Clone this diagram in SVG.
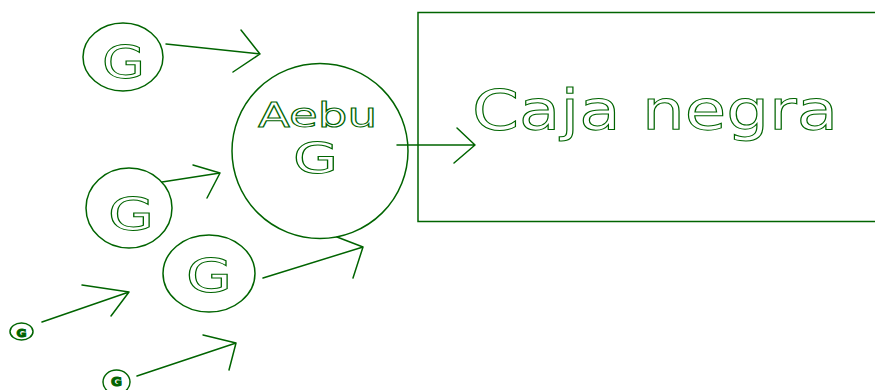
<svg xmlns="http://www.w3.org/2000/svg" width="875" height="390" viewBox="0 0 875 390">
<style>
.ln{fill:none;stroke:#006400;stroke-width:1.5;stroke-linecap:round;stroke-linejoin:round}
.sh{fill:#fff;stroke:#006400;stroke-width:1.5}
.tx{fill:#fff;stroke:#006400;stroke-width:1;font-family:"DejaVu Sans","Liberation Sans",sans-serif}
.tb{fill:#006400;stroke:#006400;stroke-width:1;font-family:"DejaVu Sans","Liberation Sans",sans-serif;font-weight:bold}
</style>
<rect width="875" height="390" fill="#fff"/>
<g id="caja">
<rect class="sh" x="418" y="12.5" width="470" height="209"/>
<text class="tx" x="472" y="129" font-size="55" textLength="366" lengthAdjust="spacingAndGlyphs">Caja negra</text>
</g>
<g id="aebu">
<ellipse class="sh" cx="320" cy="151" rx="88" ry="87.5"/>
<text class="tx" x="258" y="127" font-size="33" textLength="119" lengthAdjust="spacingAndGlyphs" stroke-width="1.3">Aebu</text>
<text class="tx" x="293" y="173" font-size="43" textLength="45" lengthAdjust="spacingAndGlyphs">G</text>
</g>
<g id="g1">
<ellipse class="sh" cx="123" cy="57" rx="40" ry="34"/>
<text class="tx" x="102" y="78" font-size="45" textLength="43" lengthAdjust="spacingAndGlyphs">G</text>
</g>
<g id="g2">
<ellipse class="sh" cx="129" cy="208" rx="43" ry="40"/>
<text class="tx" x="108" y="230" font-size="45" textLength="46" lengthAdjust="spacingAndGlyphs">G</text>
</g>
<g id="g3">
<ellipse class="sh" cx="209" cy="273.5" rx="46" ry="38.5"/>
<text class="tx" x="186" y="292" font-size="46" textLength="46" lengthAdjust="spacingAndGlyphs">G</text>
</g>
<g id="g4">
<ellipse class="sh" cx="21.5" cy="331.5" rx="11.5" ry="8.5"/>
<text class="tb" x="16.5" y="337" font-size="11" textLength="10" lengthAdjust="spacingAndGlyphs">G</text>
</g>
<g id="g5">
<ellipse class="sh" cx="116.5" cy="382" rx="13.5" ry="12"/>
<text class="tb" x="111" y="386" font-size="12" textLength="11" lengthAdjust="spacingAndGlyphs">G</text>
</g>
<g id="connectors">
<path class="ln" d="M166,44 L260,54 M241,30 L260,54 L233,72"/>
<path class="ln" d="M397,145 L475,145 M457,128 L475,145 L454,163"/>
<path class="ln" d="M162,182 L220,173 M193,165 L220,173 L207,198"/>
<path class="ln" d="M263,278 L363,247 M337,237 L363,247 L353,278"/>
<path class="ln" d="M42,322 L129,292 M82,285 L129,292 L111,316"/>
<path class="ln" d="M137,376 L236,343 M203,335 L236,343 L229,370"/>
</g>
</svg>
